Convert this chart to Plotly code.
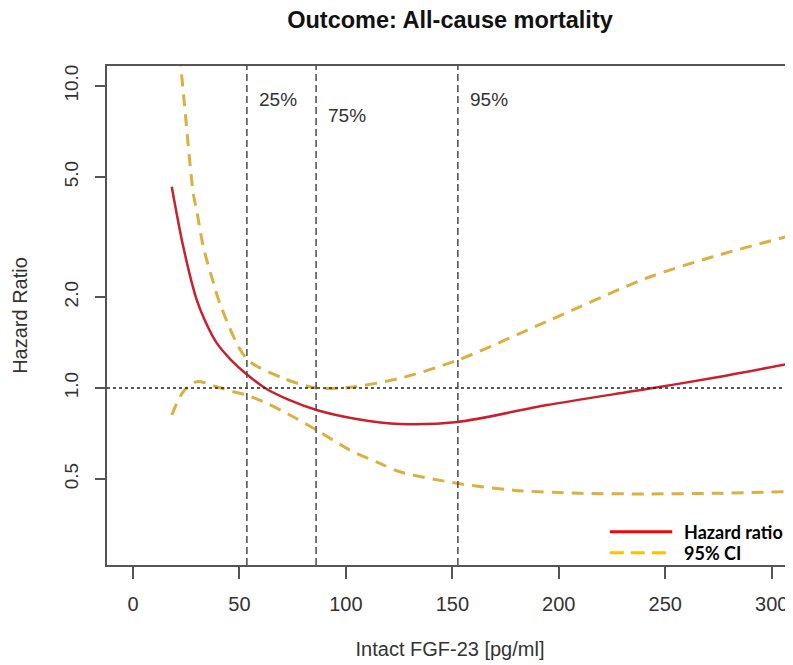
import math
import plotly.graph_objects as go

# ---- data ----
fgf_hr = [18.2, 23.6, 29.9, 34.0, 39.3, 46.0, 53.4, 62.0, 73.0, 86.2, 105.0, 125.4, 152.6, 194.4, 241.3, 272.3, 309.9]
hr     = [4.64, 2.94, 1.96, 1.66, 1.41, 1.24, 1.11, 1.00, 0.915, 0.846, 0.79, 0.76, 0.772, 0.878, 0.992, 1.079, 1.21]

fgf_up = [18.2, 22.4, 28.3, 29.9, 33.0, 36.9, 41.6, 53.4, 70.6, 86.2, 101.9, 125.4, 152.7, 194.2, 241.2, 272.4, 309.9]
ci_up  = [20.0, 11.65, 4.41, 3.88, 2.94, 2.34, 1.84, 1.25, 1.077, 1.0, 1.005, 1.077, 1.238, 1.658, 2.31, 2.72, 3.21]

fgf_lo = [18.2, 23.6, 29.9, 39.3, 47.1, 53.4, 62.8, 73.7, 86.2, 101.9, 116.0, 125.4, 152.7, 178.5, 209.9, 241.2, 272.4, 309.9]
ci_lo  = [0.814, 0.972, 1.049, 1.01, 0.972, 0.948, 0.890, 0.814, 0.726, 0.623, 0.563, 0.528, 0.483, 0.459, 0.448, 0.446, 0.448, 0.454]

quantile_pos = [53.5, 86.0, 152.6]
quantile_lbl = ["25%", "75%", "95%"]
quantile_lbl_y = [9.0, 8.0, 9.0]

x_ticks = [0, 50, 100, 150, 200, 250, 300]
y_ticks = [0.5, 1.0, 2.0, 5.0, 10.0]
y_tick_text = ["0.5", "1.0", "2.0", "5.0", "10.0"]

legend_names = ["Hazard ratio", "95% CI"]
legend_colors = ["#ff0000", "#ffc000"]
legend_dash = ["solid", "14px,7px"]

HR_COL = "#c8202e"
CI_COL = "#dcb040"
AX_COL = "#555555"
TXT_COL = "#333333"
FONT = "Liberation Sans, Arial, sans-serif"

# the page body adds an 8px offset; size the figure so the plot area lands where the reference has it
W, H = 785, 657

fig = go.Figure()

fig.add_trace(go.Scatter(x=fgf_up, y=ci_up, mode="lines", line=dict(color=CI_COL, width=3, dash="12px,8px", shape="spline", smoothing=0.8),
                         showlegend=False, hoverinfo="skip"))
fig.add_trace(go.Scatter(x=fgf_lo, y=ci_lo, mode="lines", line=dict(color=CI_COL, width=3, dash="12px,8px", shape="spline", smoothing=0.8),
                         showlegend=False, hoverinfo="skip"))
fig.add_trace(go.Scatter(x=fgf_hr, y=hr, mode="lines", line=dict(color=HR_COL, width=2.5, shape="spline", smoothing=0.8),
                         showlegend=False, hoverinfo="skip"))

# reference line at HR = 1
fig.add_shape(type="line", xref="paper", x0=0, x1=1, yref="y", y0=1, y1=1,
              line=dict(color="#222222", width=1.3, dash="dot"))

# quantile lines and labels (annotation y on a log axis is given in log10 units)
for xq, lbl, ly in zip(quantile_pos, quantile_lbl, quantile_lbl_y):
    fig.add_shape(type="line", xref="x", x0=xq, x1=xq, yref="paper", y0=0, y1=1,
                  line=dict(color="#4a4a4a", width=1.5, dash="7px,4px"))
    fig.add_annotation(x=xq, y=math.log10(ly), xref="x", yref="y", text=lbl, showarrow=False,
                       xanchor="left", xshift=10, font=dict(family=FONT, size=19, color=TXT_COL))

# legend (drawn in paper coordinates, bottom right)
leg_y = [0.0667, 0.0246]
for name, col, dsh, ly in zip(legend_names, legend_colors, legend_dash, leg_y):
    fig.add_shape(type="line", xref="paper", yref="paper", x0=0.733, x1=0.824, y0=ly, y1=ly,
                  line=dict(color=col, width=3, dash=dsh))
    fig.add_annotation(xref="paper", yref="paper", x=0.838, y=ly, text="<b>" + name + "</b>",
                       showarrow=False, xanchor="left", yanchor="middle",
                       font=dict(family="Lato, Noto Sans, sans-serif", size=18, color="#000000"))

fig.update_layout(
    width=W, height=H,
    margin=dict(l=99, r=0, t=58, b=H - 557),
    plot_bgcolor="white", paper_bgcolor="white",
    font=dict(family=FONT, size=20, color=TXT_COL),
    title=dict(text="<b>Outcome: All-cause mortality</b>", x=0.5, xref="paper", xanchor="center",
               y=1 - 12 / H, yanchor="middle", yref="container",
               font=dict(family=FONT, size=23.5, color="#111111")),
    showlegend=False,
)

fig.update_xaxes(range=[-12.2, 310], tickvals=x_ticks, ticks="outside", ticklen=12, tickwidth=1.5,
                 tickcolor=AX_COL, showline=True, linecolor=AX_COL, linewidth=1.5, mirror=True,
                 showgrid=False, zeroline=False, ticklabelstandoff=8, automargin=False,
                 tickfont=dict(size=20, color=TXT_COL),
                 title=dict(text="Intact FGF-23 [pg/ml]", standoff=28, font=dict(size=20, color=TXT_COL)))
fig.update_yaxes(type="log", range=[-0.586, 1.066], tickvals=y_ticks, ticktext=y_tick_text,
                 tickangle=-90, ticks="outside", ticklen=10, tickwidth=1.5, tickcolor=AX_COL,
                 showline=True, linecolor=AX_COL, linewidth=1.5, showgrid=False, zeroline=False,
                 ticklabelstandoff=10, automargin=False,
                 tickfont=dict(size=19, color=TXT_COL),
                 title=dict(text="Hazard Ratio", standoff=28, font=dict(size=20, color=TXT_COL)))

fig.write_html("out.html")
